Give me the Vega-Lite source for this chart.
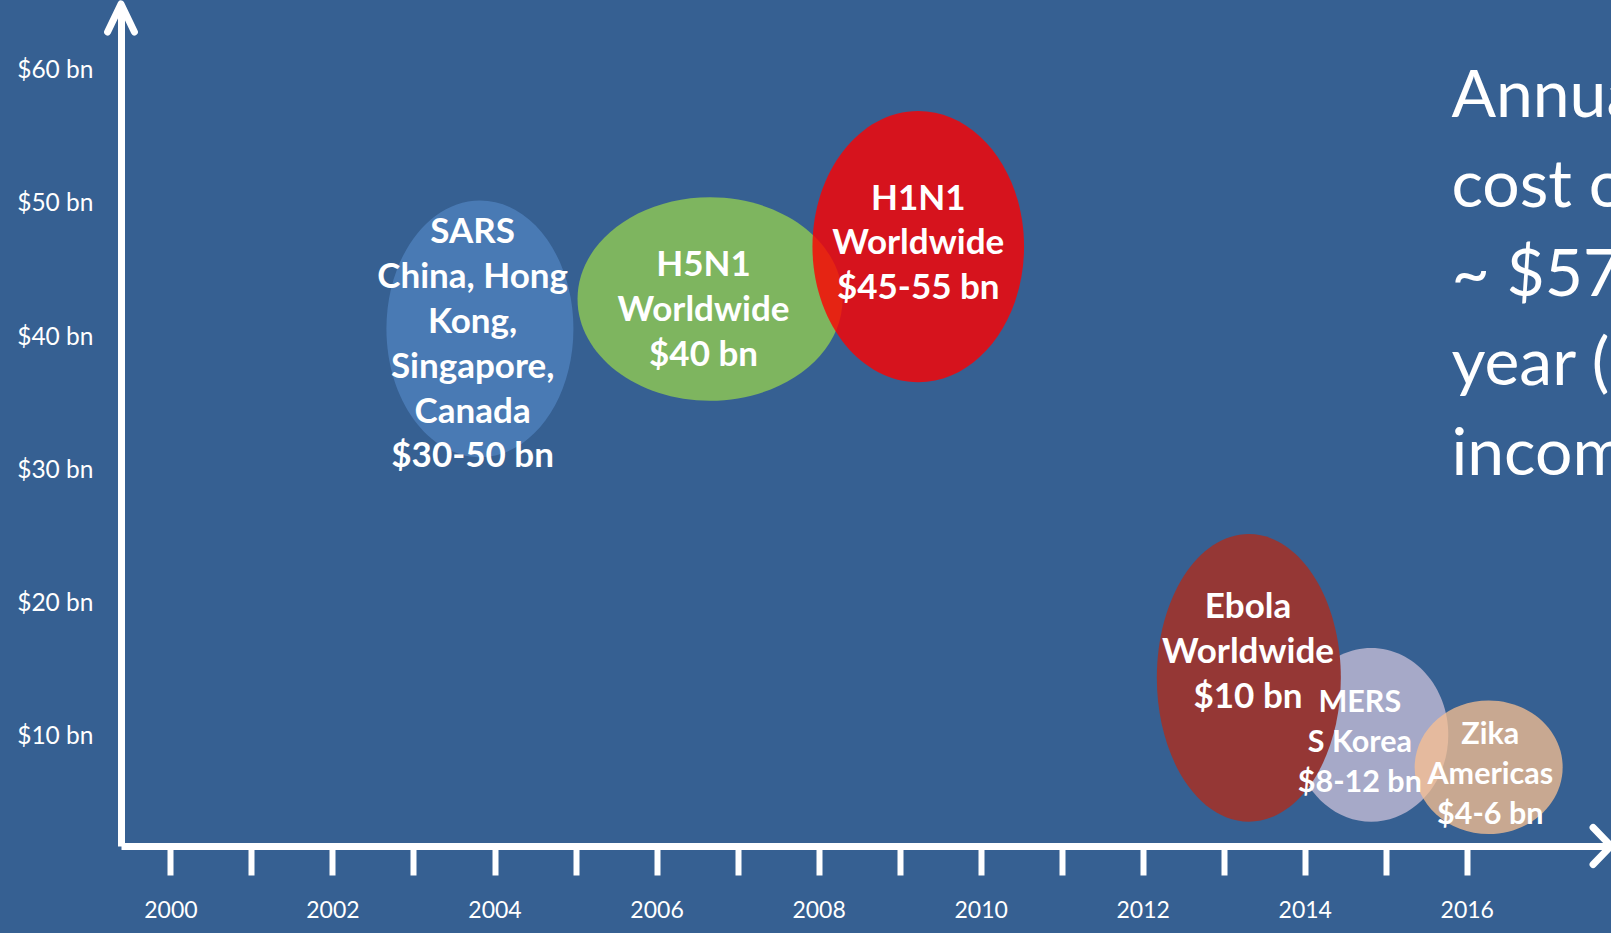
{
  "$schema": "https://vega.github.io/schema/vega-lite/v6.json",
  "width": 1490,
  "height": 842,
  "autosize": {"type": "none"},
  "padding": {"left": 121, "top": 4, "right": 0, "bottom": 87},
  "background": "#366092",
  "config": {"view": {"stroke": null}, "font": "Lato"},
  "datasets": {
    "outbreaks": [
      {"event": "SARS", "year": 2003.82, "cost": 40.62, "textYear": 2003.73, "textCost": 47.85, "label": "SARS\nChina, Hong\nKong,\nSingapore,\nCanada\n$30-50 bn"},
      {"event": "H5N1", "year": 2006.66, "cost": 42.86, "textYear": 2006.58, "textCost": 45.38, "label": "H5N1\nWorldwide\n$40 bn"},
      {"event": "H1N1", "year": 2009.23, "cost": 46.79, "textYear": 2009.23, "textCost": 50.39, "label": "H1N1\nWorldwide\n$45-55 bn"},
      {"event": "MERS", "year": 2014.82, "cost": 10.14, "textYear": 2014.68, "textCost": 12.54, "label": "MERS\nS Korea\n$8-12 bn"},
      {"event": "Ebola", "year": 2013.31, "cost": 14.42, "textYear": 2013.30, "textCost": 19.71, "label": "Ebola\nWorldwide\n$10 bn"},
      {"event": "Zika", "year": 2016.27, "cost": 7.71, "textYear": 2016.29, "textCost": 10.16, "label": "Zika\nAmericas\n$4-6 bn"}
    ],
    "yArrow": [{"year": 1999.39, "cost": 65}],
    "xArrow": [{"year": 2017.78, "cost": 1.8}],
    "note": [{"year": 2015.81, "cost": 58.0, "text": "Annual\ncost of\n~ $570 bn per\nyear (0.7% of\nincome)"}]
  },
  "encoding": {
    "x": {
      "field": "year", "type": "quantitative",
      "scale": {"domain": [1999.39, 2017.78], "nice": false, "zero": false},
      "axis": {
        "values": [2000, 2001, 2002, 2003, 2004, 2005, 2006, 2007, 2008, 2009, 2010, 2011, 2012, 2013, 2014, 2015, 2016],
        "labelExpr": "datum.value % 2 === 0 ? '' + datum.value : ''",
        "title": null, "grid": false,
        "domainColor": "white", "domainWidth": 7,
        "tickColor": "white", "tickWidth": 6, "tickSize": 29,
        "labelColor": "white", "labelFont": "Lato", "labelFontSize": 23,
        "labelPadding": 24, "labelFlush": false, "labelOverlap": false
      }
    },
    "y": {
      "field": "cost", "type": "quantitative",
      "scale": {"domain": [1.8, 65], "nice": false, "zero": false},
      "axis": {
        "values": [10, 20, 30, 40, 50, 60],
        "labelExpr": "'$' + datum.value + ' bn'",
        "title": null, "grid": false, "ticks": false,
        "domainColor": "white", "domainWidth": 7,
        "labelColor": "white", "labelFont": "Lato", "labelFontSize": 24.5,
        "labelPadding": 28
      }
    }
  },
  "layer": [
    {
      "data": {"name": "outbreaks"},
      "mark": {"type": "point", "filled": true, "opacity": 1, "size": 40000},
      "encoding": {
        "shape": {
          "field": "event", "type": "nominal", "legend": null,
          "scale": {
            "domain": ["SARS", "H5N1", "H1N1", "MERS", "Ebola", "Zika"],
            "range": [
              "M -0.935 0 A 0.935 1.284 0 1 0 0.935 0 A 0.935 1.284 0 1 0 -0.935 0 Z",
              "M -1.325 0 A 1.325 1.017 0 1 0 1.325 0 A 1.325 1.017 0 1 0 -1.325 0 Z",
              "M -1.058 0 A 1.058 1.356 0 1 0 1.058 0 A 1.058 1.356 0 1 0 -1.058 0 Z",
              "M -0.771 0 A 0.771 0.868 0 1 0 0.771 0 A 0.771 0.868 0 1 0 -0.771 0 Z",
              "M -0.92 0 A 0.92 1.438 0 1 0 0.92 0 A 0.92 1.438 0 1 0 -0.92 0 Z",
              "M -0.74 0 A 0.74 0.668 0 1 0 0.74 0 A 0.74 0.668 0 1 0 -0.74 0 Z"
            ]
          }
        },
        "color": {
          "field": "event", "type": "nominal", "legend": null,
          "scale": {
            "domain": ["SARS", "H5N1", "H1N1", "MERS", "Ebola", "Zika"],
            "range": ["rgba(79,129,189,0.8)", "#7EB55F", "rgba(255,0,0,0.8)", "rgba(204,193,218,0.75)", "#953735", "rgba(250,192,144,0.75)"]
          }
        }
      }
    },
    {
      "data": {"name": "outbreaks"},
      "transform": [{"filter": "datum.event !== 'MERS' && datum.event !== 'Zika'"}],
      "mark": {"type": "text", "font": "Lato", "fontWeight": "bold", "fontSize": 35, "lineHeight": 44.8, "lineBreak": "\n", "color": "white", "align": "center", "baseline": "middle"},
      "encoding": {
        "x": {"field": "textYear", "type": "quantitative"},
        "y": {"field": "textCost", "type": "quantitative"},
        "text": {"field": "label", "type": "nominal"}
      }
    },
    {
      "data": {"name": "outbreaks"},
      "transform": [{"filter": "datum.event === 'MERS' || datum.event === 'Zika'"}],
      "mark": {"type": "text", "font": "Lato", "fontWeight": "bold", "fontSize": 30.5, "lineHeight": 40, "lineBreak": "\n", "color": "white", "align": "center", "baseline": "middle"},
      "encoding": {
        "x": {"field": "textYear", "type": "quantitative"},
        "y": {"field": "textCost", "type": "quantitative"},
        "text": {"field": "label", "type": "nominal"}
      }
    },
    {
      "data": {"name": "note"},
      "mark": {"type": "text", "font": "Lato", "fontSize": 66, "lineHeight": 89.4, "lineBreak": "\n", "color": "white", "align": "left", "baseline": "middle"},
      "encoding": {
        "text": {"field": "text", "type": "nominal"}
      }
    },
    {
      "data": {"name": "yArrow"},
      "mark": {"type": "point", "filled": false, "opacity": 1, "size": 3136, "shape": "M -0.48 1 L 0 0 L 0.48 1", "stroke": "white", "strokeWidth": 7, "strokeCap": "round", "strokeJoin": "round"}
    },
    {
      "data": {"name": "xArrow"},
      "mark": {"type": "point", "filled": false, "opacity": 1, "size": 3136, "shape": "M -0.64 -0.66 L 0 0 L -0.64 0.66", "stroke": "white", "strokeWidth": 7, "strokeCap": "round", "strokeJoin": "round"}
    }
  ]
}
